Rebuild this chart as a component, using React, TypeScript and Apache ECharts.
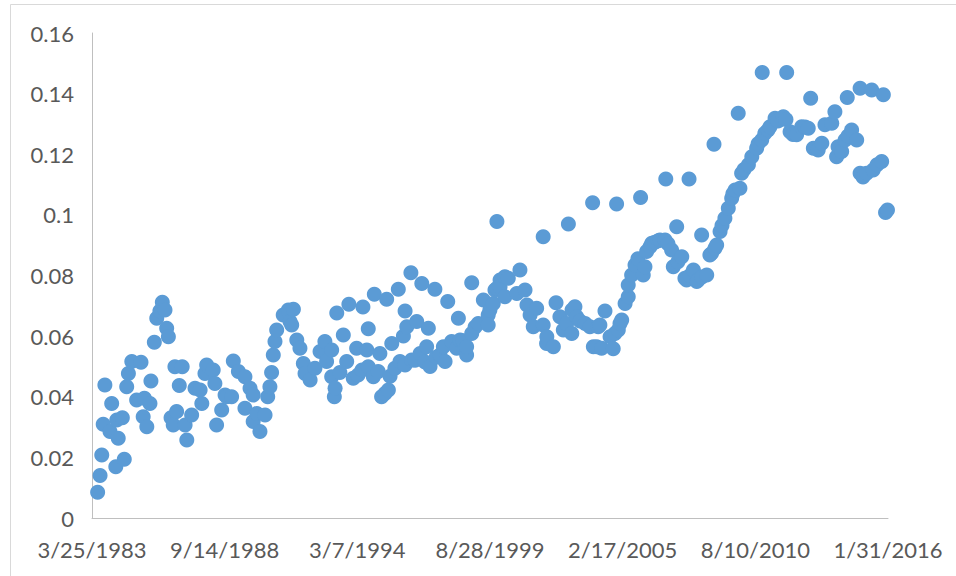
import React, { useEffect, useRef } from "react";
import * as echarts from "echarts";

// Observation dates as fractional years, and their values
const obsYear: number[] = [
  1983.46, 1983.56, 1983.63, 1983.69, 1983.76, 1983.97, 1984.04, 1984.21, 1984.25, 1984.31,
  1984.48, 1984.56, 1984.66, 1984.73, 1984.87, 1985.07, 1985.25, 1985.34, 1985.39, 1985.49,
  1985.62, 1985.66, 1985.80, 1985.90, 1986.03, 1986.13, 1986.24, 1986.31, 1986.38, 1986.49,
  1986.58, 1986.65, 1986.72, 1986.83, 1986.95, 1987.07, 1987.14, 1987.34, 1987.48, 1987.69,
  1987.76, 1987.89, 1987.96, 1988.23, 1988.30, 1988.37, 1988.58, 1988.72, 1988.79, 1988.99,
  1989.06, 1989.27, 1989.54, 1989.54, 1989.75, 1989.88, 1989.88, 1990.03, 1990.16, 1990.37,
  1990.48, 1990.57, 1990.64, 1990.71, 1990.78, 1990.85, 1991.12, 1991.33, 1991.40, 1991.47,
  1991.54, 1991.68, 1991.81, 1991.95, 1992.02, 1992.23, 1992.43, 1992.64, 1992.84, 1992.91,
  1993.12, 1993.12, 1993.23, 1993.26, 1993.33, 1993.46, 1993.60, 1993.74, 1993.83, 1994.01,
  1994.15, 1994.21, 1994.37, 1994.41, 1994.57, 1994.63, 1994.63, 1994.84, 1994.88, 1995.04,
  1995.11, 1995.18, 1995.32, 1995.39, 1995.46, 1995.53, 1995.60, 1995.73, 1995.87, 1995.94,
  1996.08, 1996.15, 1996.15, 1996.22, 1996.39, 1996.42, 1996.56, 1996.63, 1996.77, 1996.84,
  1996.97, 1997.04, 1997.11, 1997.18, 1997.38, 1997.43, 1997.59, 1997.73, 1997.80, 1997.91,
  1998.07, 1998.28, 1998.35, 1998.42, 1998.54, 1998.69, 1998.69, 1998.90, 1998.90, 1999.04,
  1999.17, 1999.38, 1999.58, 1999.58, 1999.65, 1999.79, 1999.86, 1999.94, 1999.94, 2000.07,
  2000.07, 2000.27, 2000.27, 2000.41, 2000.76, 2000.89, 2001.10, 2001.18, 2001.31, 2001.44,
  2001.58, 2001.85, 2001.85, 2001.99, 2002.00, 2002.27, 2002.38, 2002.54, 2002.68, 2002.82,
  2002.89, 2003.03, 2003.04, 2003.16, 2003.23, 2003.37, 2003.58, 2003.78, 2003.89, 2003.92,
  2004.06, 2004.12, 2004.19, 2004.26, 2004.40, 2004.61, 2004.74, 2004.81, 2004.88, 2004.95,
  2005.02, 2005.09, 2005.23, 2005.36, 2005.36, 2005.50, 2005.64, 2005.76, 2005.87, 2005.98,
  2006.05, 2006.12, 2006.26, 2006.33, 2006.46, 2006.60, 2006.67, 2006.88, 2006.91, 2007.00,
  2007.15, 2007.22, 2007.36, 2007.41, 2007.57, 2007.70, 2007.77, 2007.87, 2007.91, 2008.05,
  2008.19, 2008.25, 2008.39, 2008.40, 2008.60, 2008.73, 2008.80, 2008.90, 2008.94, 2009.01,
  2009.15, 2009.23, 2009.35, 2009.49, 2009.63, 2009.68, 2009.77, 2009.90, 2009.97, 2010.04,
  2010.14, 2010.32, 2010.46, 2010.66, 2010.72, 2010.87, 2010.89, 2011.00, 2011.13, 2011.21,
  2011.42, 2011.54, 2011.76, 2011.87, 2011.90, 2012.04, 2012.16, 2012.31, 2012.52, 2012.66,
  2012.79, 2012.89, 2013.00, 2013.20, 2013.35, 2013.48, 2013.76, 2013.89, 2013.96, 2014.02,
  2014.17, 2014.31, 2014.40, 2014.43, 2014.58, 2014.79, 2014.93, 2014.93, 2015.05, 2015.20,
  2015.41, 2015.47, 2015.63, 2015.82, 2015.89, 2015.98, 2016.06,
];

const obsValue: number[] = [
  0.0085, 0.014, 0.0208, 0.0309, 0.0439, 0.0285, 0.0378, 0.0169, 0.0323, 0.0263,
  0.0331, 0.0194, 0.0433, 0.0477, 0.0516, 0.0389, 0.0514, 0.0334, 0.0395, 0.0301,
  0.0378, 0.0452, 0.058, 0.0659, 0.0683, 0.0712, 0.0686, 0.0626, 0.0598, 0.0331,
  0.0307, 0.0499, 0.0351, 0.0437, 0.0499, 0.0307, 0.0257, 0.034, 0.0428, 0.0422,
  0.0378, 0.0477, 0.0505, 0.0488, 0.0444, 0.0307, 0.0356, 0.0406, 0.04, 0.04,
  0.0518, 0.0483, 0.0466, 0.0362, 0.0428, 0.0406, 0.0318, 0.0345, 0.0285, 0.034,
  0.04, 0.0433, 0.048, 0.0538, 0.0582, 0.062, 0.067, 0.0686, 0.0648, 0.0637,
  0.0689, 0.0587, 0.056, 0.051, 0.0477, 0.0455, 0.0494, 0.0549, 0.0582, 0.0516,
  0.0554, 0.0466, 0.04, 0.0428, 0.0676, 0.048, 0.0604, 0.0516, 0.0705, 0.0461,
  0.056, 0.0472, 0.0488, 0.0696, 0.0554, 0.0624, 0.0499, 0.0466, 0.0738, 0.0483,
  0.0543, 0.04, 0.0411, 0.0722, 0.0422, 0.0468, 0.0576, 0.0494, 0.0755, 0.0516,
  0.06, 0.0683, 0.0505, 0.0631, 0.0809, 0.0521, 0.052, 0.0648, 0.0543, 0.0774,
  0.0515, 0.0565, 0.0626, 0.05, 0.0755, 0.053, 0.0538, 0.0565, 0.0516, 0.0714,
  0.0582, 0.056, 0.0659, 0.0587, 0.0585, 0.0538, 0.0565, 0.0776, 0.0609, 0.063,
  0.0642, 0.0719, 0.067, 0.0637, 0.0686, 0.0708, 0.0752, 0.0978, 0.0758, 0.0785,
  0.0763, 0.073, 0.0796, 0.0791, 0.0741, 0.0818, 0.0752, 0.0703, 0.067, 0.0631,
  0.0692, 0.0928, 0.0637, 0.0576, 0.0598, 0.0565, 0.071, 0.0664, 0.062, 0.0642,
  0.097, 0.0609, 0.0686, 0.0697, 0.0664, 0.065, 0.0642, 0.0631, 0.104, 0.0565,
  0.0565, 0.0631, 0.0637, 0.056, 0.0683, 0.0598, 0.0558, 0.0609, 0.1036, 0.062,
  0.0642, 0.0653, 0.0708, 0.073, 0.0769, 0.0802, 0.0835, 0.0855, 0.1057, 0.0802,
  0.0829, 0.0879, 0.0895, 0.0906, 0.091, 0.0915, 0.0917, 0.0917, 0.1118, 0.0905,
  0.0884, 0.0829, 0.0961, 0.0845, 0.0862, 0.0791, 0.0785, 0.1118, 0.08, 0.0818,
  0.078, 0.0785, 0.0934, 0.0795, 0.0802, 0.0868, 0.0873, 0.1233, 0.089, 0.0901,
  0.0945, 0.0965, 0.0989, 0.1022, 0.1055, 0.107, 0.1082, 0.1335, 0.1088, 0.1137,
  0.115, 0.1165, 0.1192, 0.122, 0.1235, 0.1247, 0.147, 0.1269, 0.128, 0.1291,
  0.1319, 0.131, 0.1324, 0.1315, 0.147, 0.1274, 0.1265, 0.1264, 0.1291, 0.129,
  0.1286, 0.1385, 0.122, 0.1214, 0.1236, 0.1297, 0.1302, 0.134, 0.1192, 0.1225,
  0.1209, 0.1247, 0.1387, 0.126, 0.128, 0.1247, 0.1418, 0.1137, 0.1125, 0.1137,
  0.1412, 0.1148, 0.1165, 0.1176, 0.1396, 0.1008, 0.1016,
];

// Axis definition: start date, tick step in days, number of steps
const axisStartDate = "1983-03-25";
const tickStepDays = 2000;
const tickSteps = 6;
const yTicks = [0, 0.02, 0.04, 0.06, 0.08, 0.1, 0.12, 0.14, 0.16];

const DAY_MS = 86400000;
const startMs = Date.parse(axisStartDate + "T00:00:00Z");
const startYear = 1983 + 83 / 365; // fractional year of axis start date

function yearToDays(y: number): number {
  return (y - startYear) * 365.25;
}

export default function App() {
  const ref = useRef<HTMLDivElement>(null);
  useEffect(() => {
    if (!ref.current) return;
    const chart = echarts.init(ref.current, undefined, { renderer: "svg" });
    const data = obsYear.map((y, i) => [yearToDays(y), obsValue[i]]);
    const font = "Lato, 'Open Sans', sans-serif";
    chart.setOption({
      animation: false,
      backgroundColor: "#ffffff",
      textStyle: { fontFamily: font },
      grid: { left: 92, right: 68, top: 33, bottom: 58, containLabel: false },
      graphic: [
        {
          type: "rect",
          shape: { x: 10.5, y: 4.5, width: 1000, height: 700 },
          style: { fill: "none", stroke: "#D9D9D9", lineWidth: 1 },
          silent: true,
        },
      ],
      xAxis: {
        type: "value",
        min: 0,
        max: tickStepDays * tickSteps,
        interval: tickStepDays,
        splitLine: { show: false },
        axisTick: { show: false },
        axisLine: { show: true, lineStyle: { color: "#BFBFBF", width: 1 } },
        axisLabel: {
          show: true,
          fontSize: 22,
          color: "#595959",
          fontFamily: font,
          margin: 20,
          showMinLabel: true,
          showMaxLabel: true,
          formatter: (v: number) => {
            const d = new Date(startMs + v * DAY_MS);
            return `${d.getUTCMonth() + 1}/${d.getUTCDate()}/${d.getUTCFullYear()}`;
          },
        },
      },
      yAxis: {
        type: "value",
        min: yTicks[0],
        max: yTicks[yTicks.length - 1],
        interval: yTicks[1] - yTicks[0],
        splitLine: { show: false },
        axisTick: { show: false },
        axisLine: { show: true, lineStyle: { color: "#BFBFBF", width: 1 } },
        axisLabel: {
          fontSize: 22,
          color: "#595959",
          fontFamily: font,
          margin: 18,
          formatter: (v: number) => String(+v.toFixed(2)),
        },
      },
      series: [
        {
          type: "scatter",
          data,
          symbol: "circle",
          symbolSize: 15,
          itemStyle: { color: "#5B9BD5", opacity: 1 },
          clip: false,
        },
      ],
    });
    return () => chart.dispose();
  }, []);
  return (
    <div
      ref={ref}
      style={{ position: "fixed", left: 0, top: 0, width: 956, height: 576, background: "#fff" }}
    />
  );
}
